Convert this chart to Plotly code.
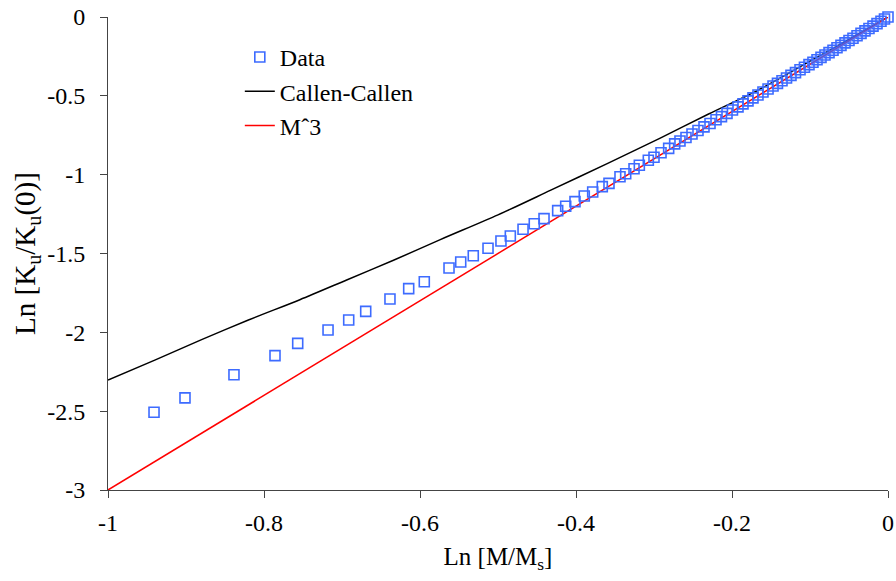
import plotly.graph_objects as go

# Measured anisotropy vs. magnetization (log-log)
data_lnm = [
    -0.9410, -0.9013, -0.8385, -0.7859, -0.7568, -0.7179, -0.6914, -0.6696,
    -0.6385, -0.6145, -0.5945, -0.5628, -0.5478, -0.5317, -0.5128, -0.4962,
    -0.4842, -0.4679, -0.4535, -0.4410, -0.4235, -0.4132, -0.4013, -0.3894,
    -0.3786, -0.3663, -0.3577, -0.3436, -0.3363, -0.3256, -0.3188, -0.3073,
    -0.3000, -0.2910, -0.2812, -0.2735, -0.2667, -0.2590, -0.2513, -0.2436,
    -0.2359, -0.2282, -0.2205, -0.2135, -0.2064, -0.1994, -0.1923, -0.1859,
    -0.1795, -0.1731, -0.1667, -0.1603, -0.1538, -0.1474, -0.1417, -0.1359,
    -0.1301, -0.1244, -0.1186, -0.1128, -0.1071, -0.1013, -0.0962, -0.0910,
    -0.0859, -0.0808, -0.0756, -0.0705, -0.0654, -0.0603, -0.0551, -0.0500,
    -0.0449, -0.0397, -0.0346, -0.0295, -0.0244, -0.0192, -0.0141, -0.0090,
    -0.0045, 0.0,
]
data_lnk = [
    -2.507, -2.416, -2.269, -2.148, -2.070, -1.985, -1.922, -1.867,
    -1.789, -1.723, -1.679, -1.592, -1.554, -1.514, -1.467, -1.421,
    -1.389, -1.346, -1.311, -1.279, -1.228, -1.200, -1.171, -1.135,
    -1.110, -1.076, -1.055, -1.013, -0.994, -0.962, -0.940, -0.909,
    -0.890, -0.861, -0.833, -0.805, -0.786, -0.764, -0.742, -0.720,
    -0.697, -0.675, -0.652, -0.632, -0.611, -0.590, -0.570, -0.551,
    -0.532, -0.513, -0.495, -0.476, -0.457, -0.438, -0.421, -0.404,
    -0.387, -0.370, -0.353, -0.335, -0.319, -0.302, -0.287, -0.271,
    -0.256, -0.241, -0.226, -0.211, -0.195, -0.180, -0.164, -0.149,
    -0.135, -0.119, -0.104, -0.088, -0.073, -0.058, -0.042, -0.027,
    -0.013, 0.0,
]

# Callen-Callen prediction
cc_lnm = [-1.0, -0.94, -0.88, -0.82, -0.754, -0.694, -0.634, -0.574, -0.5,
          -0.433, -0.36, -0.292, -0.23, -0.167, -0.1, -0.05, 0.0]
cc_lnk = [-2.302, -2.176, -2.046, -1.922, -1.793, -1.668, -1.543, -1.412, -1.255,
          -1.100, -0.930, -0.768, -0.615, -0.465, -0.280, -0.142, 0.0]

# M^3 power law
m3_lnm = [-1.0, 0.0]
m3_lnk = [-3.0, 0.0]

x_ticks = [-1, -0.8, -0.6, -0.4, -0.2, 0]
x_ticktext = ["-1", "-0.8", "-0.6", "-0.4", "-0.2", "0"]
y_ticks = [0, -0.5, -1, -1.5, -2, -2.5, -3]
y_ticktext = ["0", "-0.5", "-1", "-1.5", "-2", "-2.5", "-3"]

FONT = "Liberation Serif"
TXT = dict(family=FONT, size=24, color="black")
LEG = dict(family=FONT, size=24, color="black")
XTITLE = dict(family=FONT, size=25, color="black")
YTITLE = dict(family=FONT, size=29, color="black")

fig = go.Figure()
fig.add_trace(go.Scatter(
    x=cc_lnm, y=cc_lnk, mode="lines", name="Callen-Callen",
    line=dict(color="black", width=1.5, shape="spline", smoothing=0.8),
    legendrank=2, cliponaxis=False,
))
fig.add_trace(go.Scatter(
    x=m3_lnm, y=m3_lnk, mode="lines", name="Mˆ3",
    line=dict(color="#ff0000", width=1.5), legendrank=3, cliponaxis=False,
))
fig.add_trace(go.Scatter(
    x=data_lnm, y=data_lnk, mode="markers", name="Data",
    marker=dict(symbol="square-open", size=10, color="#3d6bff",
                line=dict(width=1.6, color="#3d6bff")),
    legendrank=1, cliponaxis=False,
))

fig.update_layout(
    width=896, height=581,
    margin=dict(l=108, r=8, t=17, b=91, autoexpand=False),
    paper_bgcolor="white", plot_bgcolor="white",
    font=TXT,
    showlegend=True,
    legend=dict(x=0.169, y=0.962, xanchor="left", yanchor="top",
                bgcolor="rgba(0,0,0,0)", font=LEG,
                itemwidth=30, tracegroupgap=0),
    xaxis=dict(
        range=[-1, 0], tickvals=x_ticks, ticktext=x_ticktext,
        tickfont=TXT,
        showgrid=False, zeroline=False, showline=True, linecolor="#444",
        linewidth=1, ticks="outside", ticklen=7, tickcolor="#444",
        ticklabelstandoff=4, automargin=False,
        title=dict(text="Ln [M/M<sub>s</sub>]", standoff=12, font=XTITLE),
    ),
    yaxis=dict(
        range=[-3, 0], tickvals=y_ticks, ticktext=y_ticktext,
        tickfont=TXT,
        showgrid=False, zeroline=False, showline=True, linecolor="#444",
        linewidth=1, ticks="outside", ticklen=7, tickcolor="#444",
        ticklabelstandoff=10, automargin=False,
        title=dict(text="Ln [K<sub>u</sub>/K<sub>u</sub>(0)]", standoff=3, font=YTITLE),
    ),
)

fig.write_html("out.html")
